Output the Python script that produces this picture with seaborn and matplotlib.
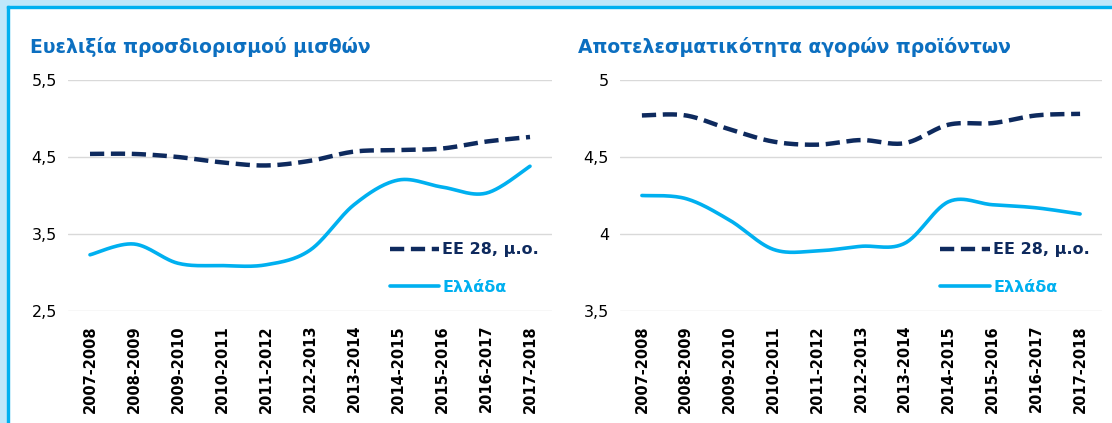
import numpy as np
import pandas as pd
import matplotlib.pyplot as plt
import seaborn as sns
from matplotlib.patches import Rectangle

sns.set_style("white")
plt.rcParams["font.family"] = ["DejaVu Sans"]

periods = ["2007-2008", "2008-2009", "2009-2010", "2010-2011", "2011-2012", "2012-2013",
           "2013-2014", "2014-2015", "2015-2016", "2016-2017", "2017-2018"]

# Ευελιξία προσδιορισμού μισθών
wage_eu = [4.54, 4.54, 4.50, 4.43, 4.39, 4.45, 4.57, 4.59, 4.61, 4.70, 4.76]
wage_gr = [3.23, 3.37, 3.12, 3.09, 3.10, 3.29, 3.88, 4.20, 4.11, 4.03, 4.38]

# Αποτελεσματικότητα αγορών προϊόντων
goods_eu = [4.77, 4.77, 4.68, 4.60, 4.58, 4.61, 4.59, 4.71, 4.72, 4.77, 4.78]
goods_gr = [4.25, 4.23, 4.09, 3.90, 3.89, 3.92, 3.94, 4.21, 4.19, 4.17, 4.13]

titles = ["Ευελιξία προσδιορισμού μισθών", "Αποτελεσματικότητα αγορών προϊόντων"]
yticks = [[2.5, 3.5, 4.5, 5.5], [3.5, 4, 4.5, 5]]
ytick_labels = [["2,5", "3,5", "4,5", "5,5"], ["3,5", "4", "4,5", "5"]]
series_names = ["ΕΕ 28, μ.ο.", "Ελλάδα"]

NAVY = "#0E2A5E"
LIGHT = "#00B0F0"
TITLE_BLUE = "#0C6FC0"


def smooth(y, n=30):
    # excel-style smoothed line (bezier between points)
    y = np.asarray(y, dtype=float)
    x = np.arange(len(y), dtype=float)
    pts = np.column_stack([x, y])
    out = []
    for i in range(len(pts) - 1):
        p0 = pts[max(i - 1, 0)]
        p1 = pts[i]
        p2 = pts[i + 1]
        p3 = pts[min(i + 2, len(pts) - 1)]
        c1 = p1 + (p2 - p0) / 6
        c2 = p2 - (p3 - p1) / 6
        t = np.linspace(0, 1, n)[:, None]
        seg = ((1 - t) ** 3) * p1 + 3 * ((1 - t) ** 2) * t * c1 + 3 * (1 - t) * t ** 2 * c2 + t ** 3 * p2
        out.append(seg if i == 0 else seg[1:])
    out = np.vstack(out)
    return out[:, 0], out[:, 1]


W, H = 1112, 423
fig = plt.figure(figsize=(W / 100, H / 100), dpi=100)

# frame around the panel
fig.patches.append(Rectangle((0, 0), 7 / W, 1, transform=fig.transFigure, color="#BFE7FA", zorder=0))
fig.patches.append(Rectangle((0, 1 - 6 / H), 1, 6 / H, transform=fig.transFigure, color="#BFE7FA", zorder=0))
fig.patches.append(Rectangle((7 / W, 0), 2 / W, 1 - 6 / H, transform=fig.transFigure, color=LIGHT, zorder=1))
fig.patches.append(Rectangle((7 / W, 1 - 8 / H), 1, 2 / H, transform=fig.transFigure, color=LIGHT, zorder=1))

axes_px = [(68, 552), (620, 1102)]
title_x = [30, 578]
data = [(wage_eu, wage_gr), (goods_eu, goods_gr)]

for k in range(2):
    x0, x1 = axes_px[k]
    ax = fig.add_axes([x0 / W, (H - 311) / H, (x1 - x0) / W, 231 / H])
    eu, gr = data[k]

    xs, ys = smooth(eu)
    sns.lineplot(x=xs, y=ys, ax=ax, color=NAVY, lw=3.2, sort=False,
                 label=series_names[0], estimator=None)
    ax.lines[-1].set_dashes((3.2, 1.5))
    xs, ys = smooth(gr)
    sns.lineplot(x=xs, y=ys, ax=ax, color=LIGHT, lw=2.6, sort=False,
                 label=series_names[1], estimator=None)

    ax.set_xlim(-0.5, len(periods) - 0.5)
    ax.set_ylim(yticks[k][0], yticks[k][-1])
    ax.set_xticks(range(len(periods)))
    ax.set_xticklabels(periods, rotation=90, fontsize=10.5, fontweight="bold", color="black")
    ax.set_yticks(yticks[k])
    ax.set_yticklabels(ytick_labels[k], fontsize=11.5, color="black")
    ax.tick_params(length=0, pad=8)
    ax.tick_params(axis="x", pad=10)
    ax.grid(axis="y", color="#D9D9D9", lw=1)
    ax.set_axisbelow(True)
    for s in ax.spines.values():
        s.set_visible(False)
    ax.set_xlabel("")
    ax.set_ylabel("")

    leg = ax.legend(loc="lower left", bbox_to_anchor=(0.635, 0.008), frameon=False,
                    handlelength=3.1, handletextpad=0.2, labelspacing=1.4,
                    prop={"weight": "bold", "size": 11.5})
    for txt, c in zip(leg.get_texts(), [NAVY, LIGHT]):
        txt.set_color(c)

    fig.text(title_x[k] / W, 1 - 47 / H, titles[k], color=TITLE_BLUE, fontsize=13.5,
             fontweight="bold", va="center", ha="left")

fig.savefig("out.png", dpi=100, facecolor="white")
